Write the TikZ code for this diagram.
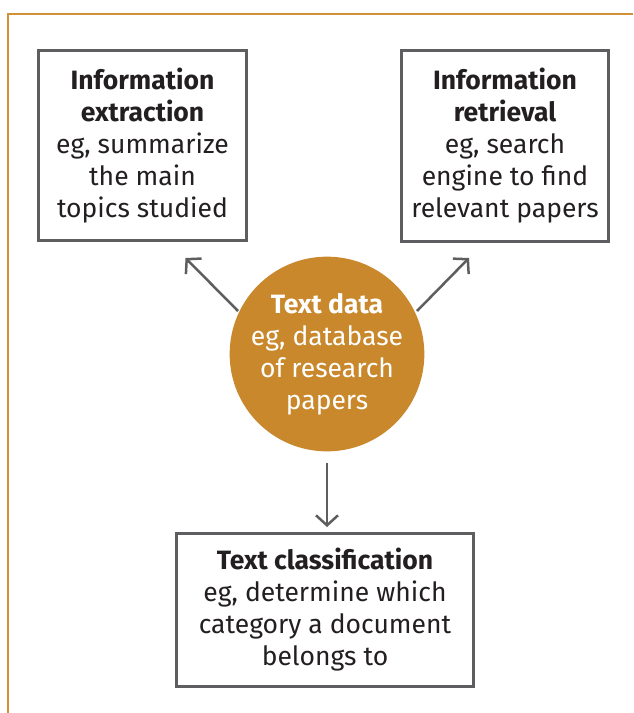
\documentclass[tikz,border=0pt]{standalone}
\usepackage{fontspec}
\setmainfont{Fira Sans}
\usetikzlibrary{arrows.meta}
\definecolor{frameorange}{HTML}{D0913A}
\definecolor{dataorange}{HTML}{C8882B}
\definecolor{boxgray}{HTML}{5E5E60}
\definecolor{inkblack}{HTML}{231F20}
\begin{document}
\begin{tikzpicture}[x=1pt, y=-1pt]
      \fontsize{26.5}{32}\selectfont
      \tikzstyle{box}=[draw=boxgray, line width=3pt, fill=white, align=center, text=inkblack, inner sep=0pt]
      \tikzstyle{data}=[circle, fill=dataorange, text=white, align=center, inner sep=0pt, minimum size=176pt]
      \tikzstyle{arrow}=[draw=boxgray, line width=2.5pt, -{Straight Barb[length=10pt, width=22pt]}]
      \useasboundingbox (0,0) rectangle (633,713);
      \draw[frameorange, line width=2.5pt] (633,14) -- (8,14) -- (8,713);

      \node[box, minimum width=208pt, minimum height=190pt] (extract) at (142.5,145.5)
        {\textbf{Information}\\\textbf{extraction}\\eg, summarize\\the main\\topics studied};
      \node[box, minimum width=207pt, minimum height=191pt] (retrieve) at (505,146)
        {\textbf{Information}\\\textbf{retrieval}\\eg, search\\engine to find\\relevant papers};
      \node[data] (text) at (327,354)
        {\textbf{Text data}\\eg, database\\of research\\papers};
      \node[box, minimum width=297pt, minimum height=153pt] (classify) at (325,610)
        {\textbf{Text classification}\\eg, determine which\\category a document\\belongs to};

      \draw[arrow] ([shift={(-89,-43)}]text.center) to ([shift={(43,16)}]extract.south);
      \draw[arrow] ([shift={(90,-43)}]text.center) to ([shift={(-36,15)}]retrieve.south);
      \draw[arrow] ([yshift=-11pt]text.south) to ([yshift=5pt]classify.north -| text.south);
\end{tikzpicture}
\end{document}
